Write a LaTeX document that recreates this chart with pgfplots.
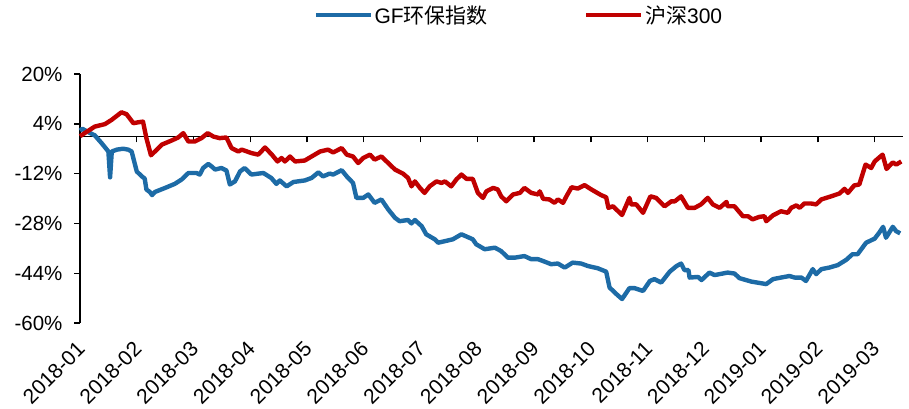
\documentclass[border=0pt]{standalone}
\usepackage{pgfplots}
\pgfplotsset{compat=1.18}
\usepackage{fontspec}
\setmainfont{Liberation Sans}
\newfontfamily\cjk{Noto Sans CJK SC}
\definecolor{gfblue}{RGB}{29,107,166}
\definecolor{hsred}{RGB}{192,0,0}
\begin{document}
\begin{tikzpicture}
\begin{axis}[
  scale only axis, width=823pt, height=249pt,
  at={(0,0)}, anchor=south west,
  xmin=0, xmax=14.5, ymin=-60, ymax=20,
  axis y line=left, axis x line=middle,
  axis line style={-, black, line width=1.4pt},
  xtick={0,...,14}, xticklabels={},
  ytick={-60,-44,-28,-12,4,20},
  yticklabels={-60\%,-44\%,-28\%,-12\%,4\%,20\%},
  tick style={black, line width=1.4pt},
  major tick length=6pt, tick align=outside,
  yticklabel style={font=\fontsize{20.5}{24}\selectfont, xshift=-8pt},
  legend style={at={(0.533,1.237)}, anchor=center, draw=none, fill=none,
    legend columns=2, font=\fontsize{21}{24}\selectfont,
    /tikz/every even column/.append style={column sep=95pt},
    nodes={inner sep=1.5pt}},
  legend image code/.code={\draw[#1] (0pt,0pt) -- (55pt,0pt);},
  clip=false,
]
\addplot[gfblue, line width=4.4pt, line join=round] coordinates {
(0,1.8)(0.04,2.4)(0.18,1.0)(0.26,0.3)(0.38,-2.2)(0.50,-4.9)(0.53,-13.2)(0.56,-4.9)
(0.65,-4.3)(0.76,-4.0)(0.85,-4.3)(0.91,-4.9)(1.00,-11.3)(1.09,-12.9)(1.14,-13.6)
(1.17,-17.1)(1.23,-17.9)(1.27,-18.9)(1.32,-17.9)(1.50,-16.6)(1.67,-15.3)(1.79,-13.9)
(1.91,-11.8)(2.05,-11.8)(2.11,-12.3)(2.17,-10.2)(2.26,-8.9)(2.32,-9.7)(2.38,-10.7)
(2.49,-10.2)(2.58,-11.0)(2.64,-15.5)(2.73,-14.5)(2.82,-11.3)(2.90,-10.2)(3.02,-12.3)
(3.23,-11.8)(3.37,-13.4)(3.46,-15.3)(3.52,-14.2)(3.64,-16.1)(3.76,-14.7)(3.96,-14.2)
(4.08,-13.4)(4.20,-11.6)(4.28,-12.9)(4.40,-12.0)(4.46,-12.3)(4.61,-10.9)(4.70,-12.9)
(4.81,-15.0)(4.87,-19.8)(4.99,-19.8)(5.08,-18.7)(5.19,-21.4)(5.31,-20.3)(5.43,-23.5)
(5.55,-26.2)(5.63,-27.3)(5.78,-26.9)(5.84,-28.0)(5.90,-26.9)(6.02,-28.9)(6.10,-31.5)
(6.25,-33.1)(6.31,-34.2)(6.43,-33.7)(6.57,-33.1)(6.72,-31.5)(6.92,-33.1)(6.98,-34.7)
(7.13,-36.3)(7.31,-35.8)(7.42,-36.9)(7.54,-39.0)(7.66,-39.0)(7.83,-38.5)(7.95,-39.5)
(8.07,-39.5)(8.16,-40.1)(8.30,-41.1)(8.42,-40.9)(8.54,-42.2)(8.68,-40.6)(8.83,-40.9)
(8.95,-41.7)(9.12,-42.4)(9.27,-43.5)(9.33,-48.6)(9.45,-50.7)(9.55,-52.3)(9.68,-48.8)
(9.77,-48.8)(9.92,-49.7)(10.04,-46.5)(10.12,-45.9)(10.24,-47.0)(10.39,-43.5)(10.51,-41.7)
(10.59,-40.9)(10.65,-43.0)(10.72,-43.0)(10.74,-45.4)(10.89,-45.2)(10.95,-46.2)(11.09,-43.8)
(11.18,-44.6)(11.41,-43.8)(11.53,-44.1)(11.62,-45.6)(11.83,-46.7)(12.09,-47.5)(12.21,-45.9)
(12.35,-45.4)(12.50,-44.9)(12.59,-45.4)(12.71,-45.4)(12.79,-46.5)(12.91,-42.7)(12.97,-44.3)
(13.06,-42.7)(13.20,-42.2)(13.35,-41.4)(13.50,-39.7)(13.61,-37.9)(13.70,-37.9)(13.85,-34.2)
(14.00,-32.9)(14.08,-31.0)(14.15,-29.1)(14.20,-32.6)(14.32,-29.1)(14.38,-30.5)(14.45,-31.2)
};
\addlegendentry{GF{\cjk 环保指数}}
\addplot[hsred, line width=4.4pt, line join=round] coordinates {
(0,0.0)(0.09,1.1)(0.26,3.1)(0.44,3.9)(0.56,5.3)(0.73,7.7)(0.82,7.1)(0.94,4.2)(1.03,4.5)
(1.11,4.7)(1.17,-0.6)(1.25,-6.1)(1.32,-4.9)(1.44,-2.7)(1.61,-1.4)(1.73,-0.4)(1.82,1.0)
(1.91,-1.7)(2.02,-1.7)(2.14,-0.6)(2.25,1.0)(2.35,-0.1)(2.46,-0.6)(2.58,-0.4)(2.67,-3.8)
(2.79,-4.9)(2.85,-4.3)(3.02,-5.4)(3.14,-5.9)(3.26,-3.6)(3.38,-5.9)(3.48,-8.1)(3.55,-7.0)
(3.61,-8.1)(3.70,-6.5)(3.79,-8.1)(3.96,-7.8)(4.08,-6.5)(4.23,-4.9)(4.37,-4.3)(4.46,-5.2)
(4.61,-3.8)(4.70,-5.9)(4.81,-6.5)(4.90,-8.6)(4.99,-7.0)(5.11,-5.9)(5.19,-7.5)(5.31,-6.5)
(5.43,-8.6)(5.55,-10.7)(5.69,-12.0)(5.78,-13.4)(5.84,-16.1)(5.90,-14.5)(5.99,-16.6)
(6.07,-18.2)(6.16,-16.1)(6.28,-14.5)(6.37,-15.0)(6.43,-14.5)(6.54,-16.1)(6.63,-13.9)
(6.72,-12.3)(6.81,-13.7)(6.92,-13.7)(7.01,-18.2)(7.10,-19.8)(7.16,-17.7)(7.28,-16.6)
(7.36,-17.1)(7.42,-19.3)(7.51,-20.9)(7.63,-18.7)(7.75,-18.2)(7.83,-16.6)(7.95,-18.2)
(8.07,-18.7)(8.10,-17.7)(8.16,-20.1)(8.27,-20.3)(8.36,-21.4)(8.42,-20.3)(8.51,-21.4)
(8.57,-19.3)(8.66,-16.4)(8.77,-16.8)(8.89,-15.7)(9.01,-17.1)(9.18,-18.9)(9.27,-19.6)
(9.31,-23.0)(9.39,-22.5)(9.55,-25.3)(9.68,-19.8)(9.71,-21.9)(9.80,-21.9)(9.92,-24.6)
(10.05,-19.3)(10.15,-19.8)(10.30,-22.5)(10.42,-20.9)(10.48,-20.9)(10.59,-19.3)(10.71,-23.0)
(10.83,-23.0)(10.94,-21.9)(11.06,-19.8)(11.15,-21.9)(11.27,-23.0)(11.39,-21.1)(11.41,-22.5)
(11.53,-22.5)(11.68,-25.7)(11.77,-25.7)(11.85,-26.7)(11.97,-25.9)(12.06,-25.7)(12.09,-27.3)
(12.21,-25.4)(12.35,-24.1)(12.47,-24.6)(12.53,-23.0)(12.62,-22.2)(12.68,-23.0)(12.76,-21.6)
(12.88,-21.6)(12.97,-21.9)(13.06,-20.3)(13.20,-19.5)(13.38,-18.4)(13.47,-16.9)(13.53,-18.2)
(13.64,-15.8)(13.73,-15.5)(13.84,-9.1)(13.94,-10.2)(14.00,-8.1)(14.14,-5.9)(14.21,-10.5)
(14.32,-8.4)(14.38,-9.1)(14.47,-8.1)
};
\addlegendentry{{\cjk 沪深}300}
\end{axis}
\begin{axis}[
  scale only axis, width=823pt, height=249pt,
  at={(0,0)}, anchor=south west,
  xmin=0, xmax=14.5, ymin=-60, ymax=20,
  axis x line=bottom, axis y line=none,
  axis line style={draw=none},
  major tick length=0pt,
  xtick={0,...,14},
  xticklabels={2018-01,2018-02,2018-03,2018-04,2018-05,2018-06,2018-07,2018-08,2018-09,2018-10,2018-11,2018-12,2019-01,2019-02,2019-03},
  xticklabel style={font=\fontsize{21}{24}\selectfont, rotate=45, anchor=north east, inner sep=0pt, yshift=-9pt, xshift=-15pt},
]
\end{axis}
\pgfresetboundingbox
\path[use as bounding box] (-80pt,-85pt) rectangle (829pt,323pt);
\end{tikzpicture}
\end{document}
